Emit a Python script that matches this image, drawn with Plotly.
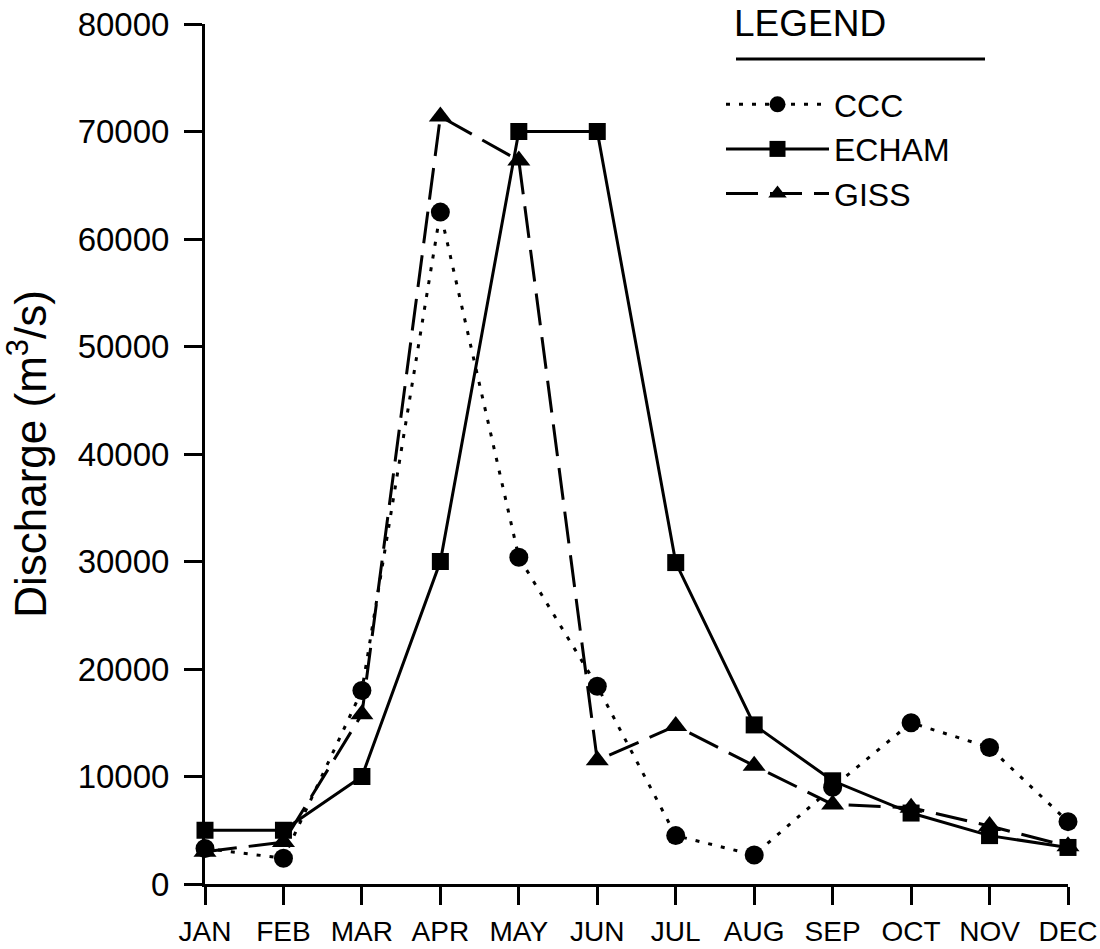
import plotly.graph_objects as go

months = ["JAN", "FEB", "MAR", "APR", "MAY", "JUN", "JUL", "AUG", "SEP", "OCT", "NOV", "DEC"]
ccc = [3300, 2400, 18000, 62500, 30400, 18400, 4500, 2700, 9000, 15000, 12700, 5800]
echam = [5000, 5000, 10000, 30000, 70000, 70000, 29900, 14800, 9600, 6600, 4500, 3400]
giss = [3000, 3900, 15800, 71400, 67300, 11500, 14700, 11000, 7400, 7100, 5400, 3500]
y_ticks = [0, 10000, 20000, 30000, 40000, 50000, 60000, 70000, 80000]

x = list(range(len(months)))
FONT = "Liberation Sans, Arial, sans-serif"

L, R, T, B = 205, 32, 24, 65
W, H = 1100, 949
PW, PH = W - L - R, H - T - B


def px_x(p):
    return (p - L) / PW


def px_y(p):
    return (H - B - p) / PH


fig = go.Figure()
fig.add_trace(go.Scatter(
    x=x, y=ccc, name="CCC", mode="lines+markers", legendgroup="a",
    line=dict(color="black", width=3, dash="4px,9px"),
    marker=dict(symbol="circle", size=19, color="black"), cliponaxis=False))
fig.add_trace(go.Scatter(
    x=x, y=echam, name="ECHAM", mode="lines+markers", legendgroup="b",
    line=dict(color="black", width=3),
    marker=dict(symbol="square", size=17, color="black"), cliponaxis=False))
fig.add_trace(go.Scatter(
    x=x, y=giss, name="GISS", mode="lines+markers", legendgroup="c",
    line=dict(color="black", width=3, dash="32px,12px"),
    marker=dict(symbol="triangle-up", size=20, color="black"), cliponaxis=False))

fig.update_layout(
    width=W, height=H,
    margin=dict(l=L, r=R, t=T, b=B, autoexpand=False),
    paper_bgcolor="white", plot_bgcolor="white",
    font=dict(family=FONT, color="black", size=28),
    showlegend=True,
    legend=dict(
        x=px_x(721), y=px_y(77), xanchor="left", yanchor="top",
        bgcolor="rgba(0,0,0,0)",
        font=dict(size=32, family=FONT),
        traceorder="grouped", tracegroupgap=0,
        itemwidth=103,
    ),
    xaxis=dict(
        range=[0, 11], tickmode="array", tickvals=x, ticktext=months,
        showline=True, linecolor="black", linewidth=3,
        ticks="outside", ticklen=18, tickwidth=2.5, tickcolor="black",
        showgrid=False, zeroline=False, automargin=False,
        ticklabelstandoff=2,
        tickfont=dict(size=28, family=FONT),
    ),
    yaxis=dict(
        range=[0, 80000], tickmode="array", tickvals=y_ticks,
        tickformat="d",
        showline=True, linecolor="black", linewidth=3,
        ticks="outside", ticklen=18, tickwidth=2.5, tickcolor="black",
        showgrid=False, zeroline=False, automargin=False,
        ticklabelstandoff=8,
        tickfont=dict(size=33, family=FONT),
        title=dict(text="Discharge (m<sup>3</sup>/s)", font=dict(size=44, family=FONT), standoff=20),
    ),
)
fig.add_annotation(text="LEGEND", xref="paper", yref="paper",
                   x=px_x(732), y=px_y(46), xanchor="left", yanchor="bottom",
                   showarrow=False, font=dict(size=37, family=FONT, color="black"))
fig.add_shape(type="line", xref="paper", yref="paper",
              x0=px_x(736), x1=px_x(985), y0=px_y(59), y1=px_y(59),
              line=dict(color="black", width=3))

fig.write_html("out.html", config={"displayModeBar": False},
               post_script="document.body.style.margin='0px';")
